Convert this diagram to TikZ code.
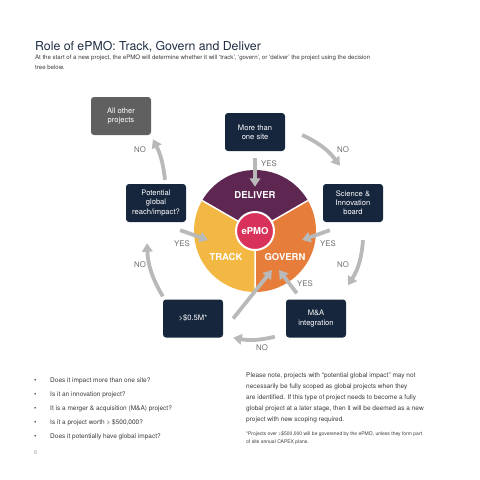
\documentclass[tikz,border=0pt]{standalone}
\usepackage{fontspec}
\setmainfont{TeX Gyre Heros}
\usetikzlibrary{arrows.meta, positioning, calc}

\definecolor{navy}{HTML}{16263D}
\definecolor{boxgrey}{HTML}{606060}
\definecolor{flowgrey}{HTML}{B9B9B9}
\definecolor{labelgrey}{HTML}{6E6E6E}
\definecolor{bodytext}{HTML}{3A3A3A}
\definecolor{titleblue}{HTML}{1F2D44}
\definecolor{deliverc}{HTML}{5D2751}
\definecolor{trackc}{HTML}{F2B843}
\definecolor{governc}{HTML}{E67D3B}
\definecolor{epmoc}{HTML}{D9325A}

\begin{document}
\begin{tikzpicture}[
    x=1pt, y=-1pt,
    box/.style = {rectangle, fill=navy, text=white, rounded corners=3pt, minimum width=60pt, minimum height=38pt, align=center, inner sep=2pt, font=\fontsize{7.6}{9.2}\selectfont},
    greybox/.style = {box, fill=boxgrey},
    flow/.style = {draw=flowgrey, line width=3.8pt, -{Triangle[width=10.5pt,length=8.5pt]}},
    answer/.style = {text=labelgrey, inner sep=0pt, font=\fontsize{7.8}{9}\selectfont},
    segment/.style = {text=white, inner sep=0pt, font=\bfseries\fontsize{9.5}{10}\selectfont},
    body/.style = {text=bodytext, inner sep=0pt, align=left}
]
    \useasboundingbox (0,0) rectangle (480,480);

    % heading
    \node [anchor=base west, text=titleblue, inner sep=0pt, font=\fontsize{12.3}{14}\selectfont] (title) at (35,50.5) {Role of ePMO: Track, Govern and Deliver};
    \node [body, anchor=base west, font=\fontsize{6.1}{9.8}\selectfont] (intro) at (35,69) {At the start of a new project, the ePMO will determine whether it will ‘track’, ‘govern’, or ‘deliver’ the project using the decision\\tree below.};

    % pie
    \coordinate (ctr) at (255,231);
    \begin{scope}[shift={(ctr)}, yscale=-1]
        \fill [deliverc] (0,0) -- (30:61) arc [start angle=30, end angle=150, radius=61] -- cycle;
        \fill [trackc] (0,0) -- (150:61) arc [start angle=150, end angle=270, radius=61] -- cycle;
        \fill [governc] (0,0) -- (270:61) arc [start angle=270, end angle=390, radius=61] -- cycle;
        \draw [white, line width=1.5pt] (0,0) -- (30:61) (0,0) -- (150:61) (0,0) -- (270:61);
        \filldraw [fill=epmoc, draw=white, line width=2pt] (0,0) circle [radius=19];
    \end{scope}
    \node [segment] (deliver) at (255,195) {DELIVER};
    \node [segment] (track) at (226,257) {TRACK};
    \node [segment] (govern) at (285,257) {GOVERN};
    \node [segment] (epmo) at (ctr) {ePMO};

    % decision boxes
    \node [greybox] (other) at (121,116) {All other\\projects};
    \node [box] (site) at (255,132) {More than\\one site};
    \node [box] (global) at (156,203) {Potential\\global\\reach/impact?};
    \node [box] (science) at (353,203) {Science \&\\Innovation\\board};
    \node [box] (value) at (193,318.5) {>\$0.5M*};
    \node [box] (merger) at (316,318.5) {M\&A\\integration};

    % arrow tips on the pie
    \coordinate (track-in) at (208,240);
    \coordinate (govern-in) at (302,240);
    \coordinate (govern-left) at (272,270);
    \coordinate (govern-right) at (279,270);

    \draw [flow] ([yshift=-7pt]site.south) -- ([yshift=4.5pt]deliver.north);
    \draw [flow] ([xshift=17pt,yshift=-3pt]site.east) to [bend left=14] ([xshift=-13pt,yshift=18pt]science.north);
    \draw [flow] ([xshift=7pt,yshift=-8pt]science.south west) -- (govern-in);
    \draw [flow] ([xshift=10pt,yshift=-18pt]science.south) to [bend left=14] ([xshift=32pt,yshift=14pt]merger.north);
    \draw [flow] ([xshift=11pt,yshift=6pt]merger.north west) -- (govern-right);
    \draw [flow] ([xshift=-11pt,yshift=1pt]merger.south west) to [bend left=12] ([xshift=10pt]value.south east);
    \draw [flow] ([xshift=10pt]value.east) -- (govern-left);
    \draw [flow] ([yshift=3pt]value.north west) to [bend left=14] ([xshift=-9pt,yshift=-21pt]global.south);
    \draw [flow] ([xshift=-6pt,yshift=-8pt]global.south east) -- (track-in);
    \draw [flow] ([xshift=9pt,yshift=4pt]global.north) to [bend right=10] ([xshift=32pt,yshift=-4pt]other.south);

    % answers
    \node [answer] (yes-site) at (269,164) {YES};
    \node [answer] (no-site) at (343,150) {NO};
    \node [answer] (yes-science) at (328,244) {YES};
    \node [answer] (no-science) at (343,265) {NO};
    \node [answer] (yes-merger) at (305,284) {YES};
    \node [answer] (no-merger) at (262,348) {NO};
    \node [answer] (no-value) at (140,265) {NO};
    \node [answer] (yes-global) at (182,244) {YES};
    \node [answer] (no-global) at (140,150) {NO};

    % questions
    \foreach \q [count=\i] in {Does it impact more than one site?, Is it an innovation project?, It is a merger \& acquisition (M\&A) project?, {Is it a project worth > \$500,000?}, Does it potentially have global impact?} {
        \node [body, anchor=west, font=\fontsize{6.5}{8}\selectfont] (bullet-\i) at (34,366.5+14*\i) {\textbullet};
        \node [body, anchor=west, font=\fontsize{6.5}{8}\selectfont] (question-\i) at (50,366.5+14*\i) {\q};
    }

    % notes
    \node [body, anchor=north west, font=\fontsize{6.5}{10.8}\selectfont] (note) at (246,373) {Please note, projects with “potential global impact” may not\\necessarily be fully scoped as global projects when they\\are identified. If this type of project needs to become a fully\\global project at a later stage, then it will be deemed as a new\\project with new scoping required.};
    \node [body, anchor=north west, font=\fontsize{5}{8}\selectfont] (footnote) at (246,431) {*Projects over >\$500,000 will be goverened by the ePMO, unless they form part\\of site annual CAPEX plans.};
    \node [body, anchor=west, text=black!40, font=\fontsize{5.5}{6}\selectfont] (page) at (34,453) {6};
\end{tikzpicture}
\end{document}
